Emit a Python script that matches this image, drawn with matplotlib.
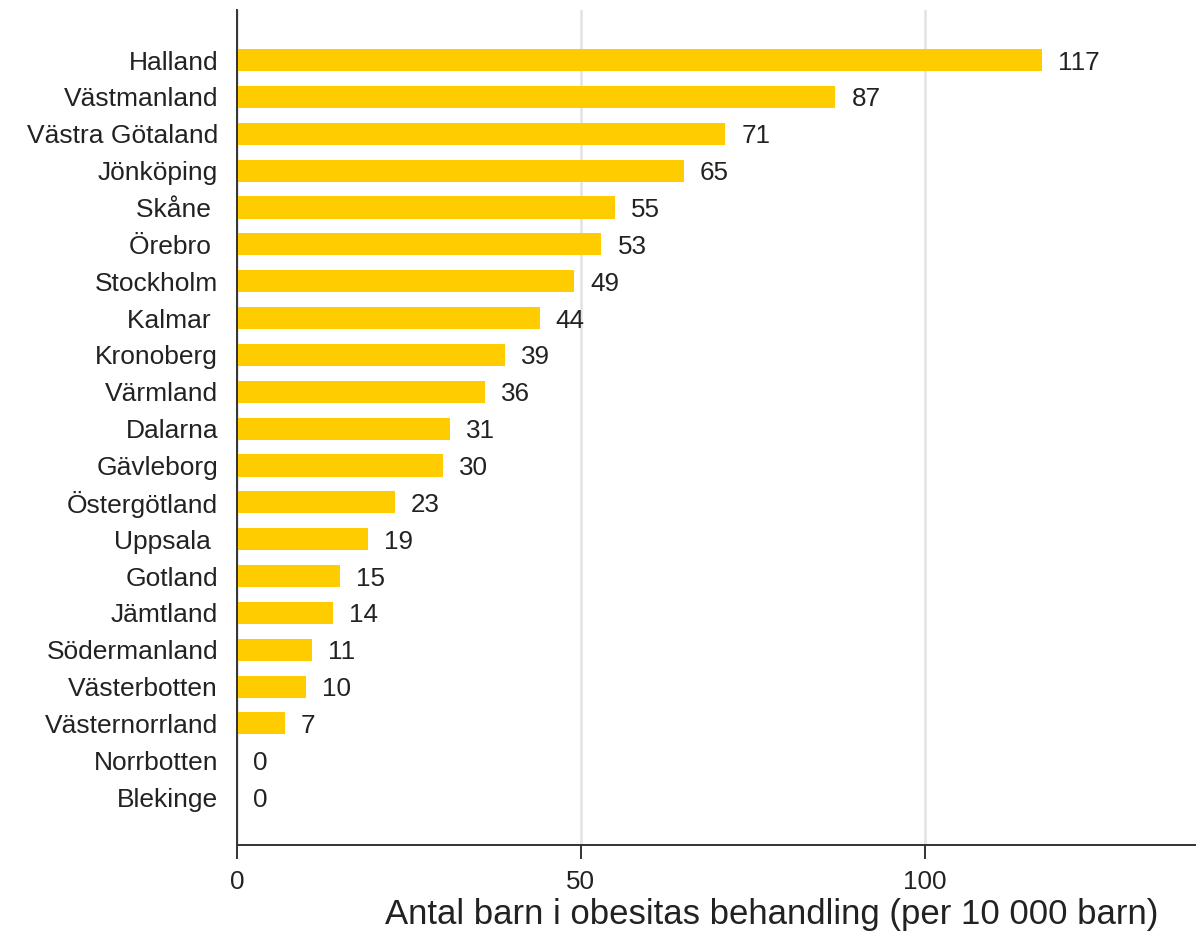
import matplotlib
matplotlib.use("Agg")
from matplotlib import pyplot as plt
import numpy as np

plt.rcParams['font.family'] = ['Liberation Sans', 'DejaVu Sans']

# regions, sorted by value (top to bottom)
lan = ['Halland', 'Västmanland', 'Västra Götaland', 'Jönköping', 'Skåne ',
       'Örebro ', 'Stockholm', 'Kalmar ', 'Kronoberg', 'Värmland', 'Dalarna',
       'Gävleborg', 'Östergötland', 'Uppsala ', 'Gotland', 'Jämtland',
       'Södermanland', 'Västerbotten', 'Västernorrland', 'Norrbotten', 'Blekinge']
antal = [117, 87, 71, 65, 55, 53, 49, 44, 39, 36, 31, 30, 23, 19, 15, 14,
         11, 10, 7, 0, 0]
xticks = [0, 50, 100]

txt = '#222222'

fig = plt.figure(figsize=(11.96, 9.33), dpi=100)
ax = fig.add_axes([0.198, 0.0943, 0.802, 0.8950])

y = np.arange(len(lan))
ax.barh(y, antal, height=0.6, color='#FFCC00', zorder=2)

for yi, v in zip(y, antal):
    ax.annotate(str(v), (v, yi), xytext=(11.5, 0), textcoords='offset points',
                va='center_baseline', ha='left', fontsize=18.7, color=txt)

ax.set_yticks(y)
ax.set_yticklabels(lan)
ax.set_ylim(21.3, -1.36)
ax.set_xlim(0, 139.4)
ax.set_xticks(xticks)

ax.grid(axis='x', color='#e3e3e3', linewidth=1.8, zorder=0)
ax.set_axisbelow(True)

for s in ['top', 'right']:
    ax.spines[s].set_visible(False)
for s in ['left', 'bottom']:
    ax.spines[s].set_color('#333333')
    ax.spines[s].set_linewidth(1.4)

ax.tick_params(axis='y', length=0, pad=13.5, labelsize=19, labelcolor=txt)
ax.tick_params(axis='x', length=10, width=1.4, color='#333333', pad=8,
               labelsize=18.7, labelcolor=txt)

ax.set_xlabel('Antal barn i obesitas behandling (per 10 000 barn)',
              fontsize=25, color=txt, labelpad=0)
ax.xaxis.set_label_coords(0.558, -0.083)
ax.xaxis.label.set_va('center')

fig.savefig('out.png', dpi=100)
